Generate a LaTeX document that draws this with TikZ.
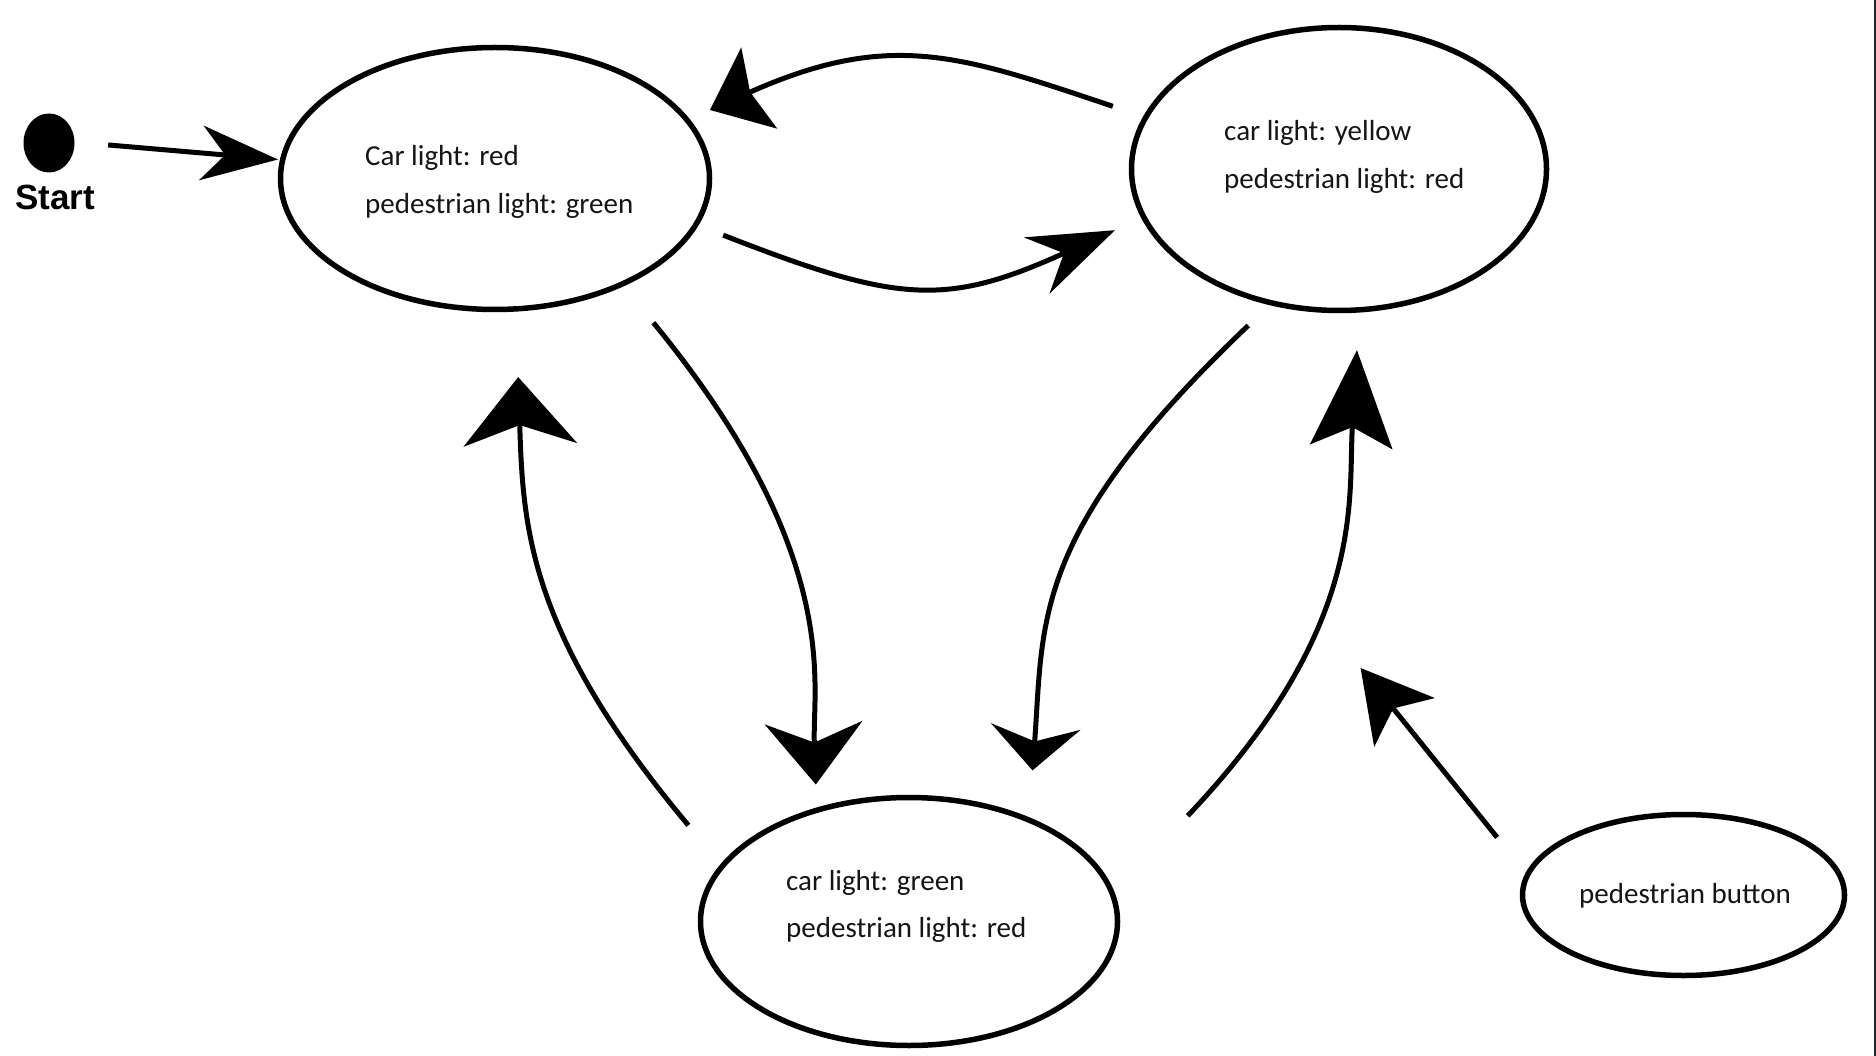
\documentclass[tikz,border=0pt]{standalone}
\usepackage{fontspec}
\setmainfont{Carlito}
\newfontfamily\startfont{Liberation Sans}
\usetikzlibrary{arrows.meta,shapes.geometric}
\definecolor{ink}{HTML}{151515}
\definecolor{edgecol}{HTML}{1E2A27}
\begin{document}
\begin{tikzpicture}[x=1pt,y=-1pt,
  state/.style={draw=black, line width=5.5pt, ellipse, inner sep=0pt},
  lbl/.style={anchor=base west, font=\fontsize{29}{35}\selectfont, text=ink, inner sep=0pt},
  conn/.style={draw=black, line width=5pt},
  hd/.style n args={3}{-{Stealth[length=#1pt,width=#2pt,inset=#3pt,line width=0pt]}}
]
\fill[white] (0,0) rectangle (1876,1056);
\useasboundingbox (0,0) rectangle (1876,1056);
\fill[edgecol] (1873.5,0) rectangle (1876,1056);

% start marker
\node[ellipse, fill=black, minimum width=51pt, minimum height=59pt, inner sep=0pt] (S) at (49,143) {};
\node[anchor=base, inner sep=0pt, font=\startfont\bfseries\fontsize{35}{40}\selectfont] (Slbl) at (55,210) {Start};

% states
\node[state, minimum width=429pt, minimum height=262pt] (A) at (495,178.5) {};
\node[state, minimum width=415pt, minimum height=283pt] (B) at (1339,169) {};
\node[state, minimum width=417pt, minimum height=248pt] (C) at (909,921.5) {};
\node[state, minimum width=322pt, minimum height=161pt] (D) at (1683.5,895) {};

% texts
\node[lbl] (A1) at (365,166) {Car light: red};
\node[lbl] (A2) at (365,214) {pedestrian light: green};
\node[lbl] (B1) at (1224,141) {car light: yellow};
\node[lbl] (B2) at (1224,189) {pedestrian light: red};
\node[lbl] (C1) at (786,890) {car light: green};
\node[lbl] (C2) at (786,937) {pedestrian light: red};
\node[lbl, anchor=base] (D1) at (1685,903) {pedestrian button};

% connectors
\draw[conn, hd={77}{55}{24}, shorten <=33.6pt, shorten >=2pt] (S.2) -- (A.175);
\draw[conn, hd={86}{62}{30}, shorten <=26.6pt, shorten >=29pt]
  (A.-13) .. controls (897,303) and (945,307) .. (B.194);
\draw[conn, hd={54}{89}{10}, shorten <=32pt, shorten >=22.3pt]
  (B.165) .. controls (960,55) and (890,30) .. (A.17.75);
\draw[conn, hd={62}{98}{20}, shorten <=47pt, shorten >=23pt]
  (A.-40) .. controls (843.8,554.6) and (812.2,685.1) .. (C.129.3);
\draw[conn, hd={68}{114}{20}, shorten <=50.5pt, shorten >=65.5pt]
  (C.163.3) .. controls (528,634) and (523,526.7) .. (A.-81.9);
\draw[conn, hd={44}{90}{15}, shorten <=29.5pt, shorten >=47pt]
  (B.-117.5) .. controls (1030.4,532.6) and (1043.7,620.5) .. (C.41.2);
\draw[conn, hd={97}{83}{20}, shorten <=106pt, shorten >=37.7pt]
  (C.8.7) .. controls (1367.4,626.8) and (1348,499.7) .. (B.-82);
\coordinate (bt) at (1360.6,668);
\draw[conn, hd={70}{78}{18}, shorten <=45.5pt] (D.172.8) -- (bt);
\end{tikzpicture}
\end{document}
